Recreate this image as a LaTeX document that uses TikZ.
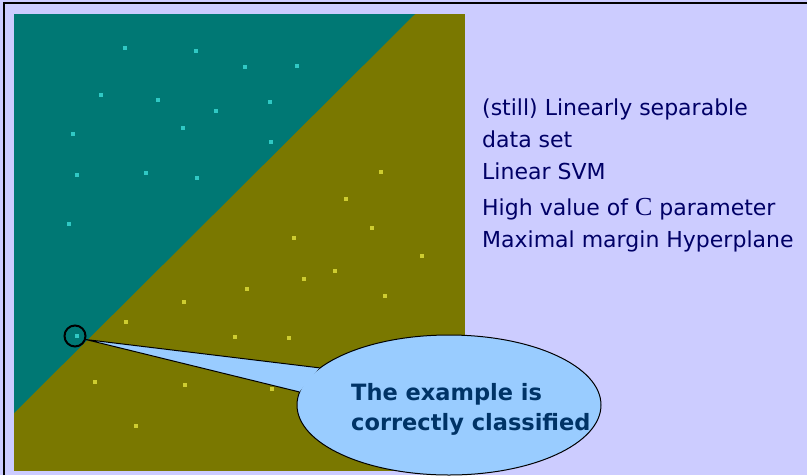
\documentclass[tikz,border=0pt]{standalone}
\usepackage{fontspec}
\setmainfont{DejaVu Sans}
\newfontfamily\serifC{Liberation Serif}
\usetikzlibrary{shapes.geometric}
\definecolor{lavender}{RGB}{204,204,255}
\definecolor{tealside}{RGB}{0,120,116}
\definecolor{oliveside}{RGB}{122,120,0}
\definecolor{posdot}{RGB}{48,200,196}
\definecolor{negdot}{RGB}{206,204,48}
\definecolor{calloutblue}{RGB}{153,204,255}
\definecolor{calloutink}{RGB}{0,51,102}
\definecolor{notesink}{RGB}{0,0,102}

\tikzset{
  pos point/.style={fill=posdot},
  neg point/.style={fill=negdot},
  callout line/.style={draw=black,line width=1pt}
}

\begin{document}
\begin{tikzpicture}[x=1pt,y=-1pt]
  \useasboundingbox (0,0) rectangle (807,475);
  \fill[lavender] (0,0) rectangle (807,475);
  \draw[line width=2pt] (4,475) -- (4,3) -- (807,3);

  % the two classes and the separating line
  \fill[oliveside] (14,14) rectangle (465,471);
  \fill[tealside] (14,14) -- (415,14) -- (14,413) -- cycle;

  \foreach \x/\y in {125/48,196/51,245/67,297/66,101/95,158/100,216/111,270/102,
                     183/128,73/134,271/142,77/175,146/173,197/178,69/224,77/336}
    \fill[pos point] (\x-1.7,\y-1.7) rectangle (\x+1.7,\y+1.7);
  \foreach \x/\y in {381/172,346/199,372/228,294/238,422/256,335/271,304/279,247/289,
                     385/296,184/302,126/322,235/337,289/338,95/382,185/385,272/389,136/426}
    \fill[neg point] (\x-1.7,\y-1.7) rectangle (\x+1.7,\y+1.7);

  \node[circle,draw,line width=2pt,minimum size=21pt,inner sep=0pt] (pick) at (75,336) {};

  % speech bubble
  \node[ellipse,callout line,fill=calloutblue,minimum width=304pt,minimum height=140pt,inner sep=0pt]
    (callout) at (449,405) {};
  \fill[calloutblue] (pick.-18) -- (callout.164) -- (callout.175) -- cycle;
  \draw[callout line] (callout.164) -- (pick.-18) -- (callout.175);
  \node[anchor=base west,align=left,inner sep=0pt,text=calloutink,
        font=\fontsize{22.5}{30}\selectfont\bfseries] (msg) at (351,430)
    {The example is\\correctly classified};

  \node[anchor=base west,align=left,inner sep=0pt,text=notesink,
        font=\fontsize{22}{32}\selectfont] (notes) at (482,247)
    {(still) Linearly separable\\data set\\Linear SVM\\[4pt]
     High value of {\serifC\fontsize{26}{32}\selectfont C} parameter\\Maximal margin Hyperplane};
\end{tikzpicture}
\end{document}
